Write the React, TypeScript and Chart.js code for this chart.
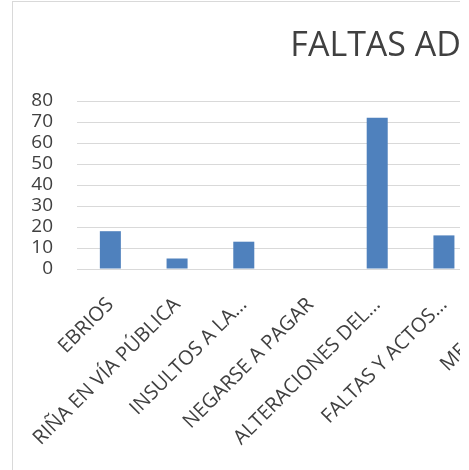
import React, { useEffect, useRef } from "react";
import { Chart, registerables } from "chart.js";

Chart.register(...registerables);

const titleText = "FALTAS ADMINISTRATIVAS";
const categories = [
  "EBRIOS",
  "RIÑA EN VÍA PÚBLICA",
  "INSULTOS A LA…",
  "NEGARSE A PAGAR",
  "ALTERACIONES DEL…",
  "FALTAS Y ACTOS…",
  "MENORES",
];
const values: (number | null)[] = [18, 5, 13, 0, 72, 16, null];
const yMin = 0;
const yMax = 80;
const yStep = 10;

const CANVAS_W = 969;
const CANVAS_H = 556;
const FONT = "'Open Sans', 'DejaVu Sans', sans-serif";
const TEXT = "#404040";
const GRID = "#d9d9d9";

export default function App() {
  const ref = useRef<HTMLCanvasElement>(null);
  useEffect(() => {
    if (!ref.current) return;
    const chart = new Chart(ref.current, {
      type: "bar",
      data: {
        labels: categories,
        datasets: [
          {
            data: values,
            backgroundColor: "#4f81bd",
            borderWidth: 0,
            categoryPercentage: 1,
            barPercentage: 0.315,
          },
        ],
      },
      options: {
        responsive: false,
        animation: false,
        devicePixelRatio: 1,
        layout: { padding: 0 },
        plugins: {
          legend: { display: false },
          tooltip: { enabled: false },
          title: {
            display: true,
            text: titleText,
            color: TEXT,
            font: { family: FONT, size: 34, weight: "normal" },
            padding: { top: 24, bottom: 34.2 },
          },
        },
        scales: {
          x: {
            grid: { display: false, drawTicks: false },
            border: { display: true, color: GRID, width: 1 },
            ticks: {
              autoSkip: false,
              maxRotation: 45,
              minRotation: 45,
              padding: 24,
              color: TEXT,
              font: { family: FONT, size: 20 },
            },
            afterFit: (s: any) => {
              s.height = CANVAS_H + 2 - 269;
            },
          },
          y: {
            min: yMin,
            max: yMax,
            grid: { color: GRID, lineWidth: 1, drawTicks: false },
            border: { display: false },
            ticks: {
              stepSize: yStep,
              autoSkip: false,
              padding: 24,
              color: TEXT,
              font: { family: FONT, size: 19 },
            },
            afterFit: (s: any) => {
              s.width = 64;
            },
          },
          y1: {
            position: "right",
            display: true,
            grid: { display: false, drawTicks: false },
            border: { display: false },
            ticks: { display: false },
            afterFit: (s: any) => {
              s.width = 13 + CANVAS_W - 544;
            },
          },
        },
      },
    });
    return () => chart.destroy();
  }, []);

  return (
    <div
      style={{
        position: "fixed",
        left: 0,
        top: 0,
        width: 460,
        height: 470,
        overflow: "hidden",
        background: "#fff",
      }}
    >
      <div
        style={{
          position: "absolute",
          left: 12,
          top: 1,
          width: CANVAS_W + 2,
          height: CANVAS_H + 2,
          border: `1px solid ${GRID}`,
          boxSizing: "border-box",
        }}
      >
        <canvas
          ref={ref}
          width={CANVAS_W}
          height={CANVAS_H}
          style={{ display: "block", width: CANVAS_W, height: CANVAS_H }}
        />
      </div>
    </div>
  );
}
